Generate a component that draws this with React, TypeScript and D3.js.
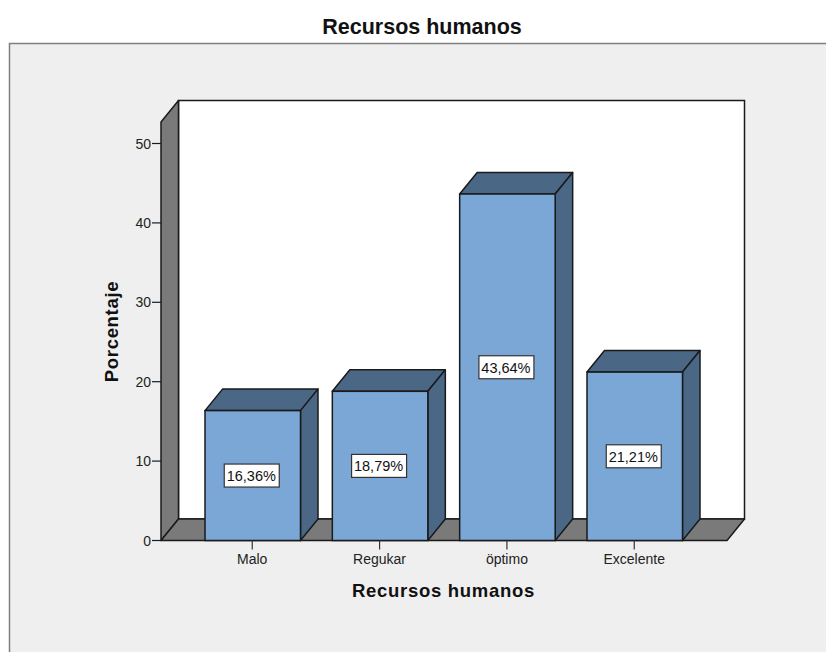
import React from "react";
import * as d3 from "d3";

const categories = ["Malo", "Regukar", "öptimo", "Excelente"];
const values = [16.36, 18.79, 43.64, 21.21];
const valueLabels = ["16,36%", "18,79%", "43,64%", "21,21%"];
const yTicks = [0, 10, 20, 30, 40, 50];
const title = "Recursos humanos";
const xTitle = "Recursos humanos";
const yTitle = "Porcentaje";

const W = 826, H = 652;
const font = "'Liberation Sans', Arial, sans-serif";
const ink = "#1a1a1a";
const floorLeft = 161, floorRight = 727;
const depthX = 17.5, depthY = 21.5;
const y = d3.scaleLinear().domain([0, 50]).range([540.5, 143.5]);
const x = d3.scaleBand().domain(categories).range([205, 682.5]).paddingInner(0.25).paddingOuter(0);
const wallTop = 122;

function poly(pts: [number, number][]) {
  return d3.line()(pts)! + "Z";
}

export default function App() {
  const y0 = y(0);
  return (
    <svg width={W} height={H} viewBox={`0 0 ${W} ${H}`} style={{ position: "absolute", left: 0, top: 0, background: "#fff" }}>
      <rect x={9.5} y={43.5} width={W + 10} height={H} fill="#efefef" stroke="#7f7f7f" strokeWidth={1.5} />
      <text x={422} y={34} textAnchor="middle" fontFamily={font} fontWeight="bold" fontSize={21.5} fill="#111">{title}</text>

      {/* back wall, side wall, floor */}
      <rect x={floorLeft + depthX} y={wallTop - depthY} width={floorRight - floorLeft} height={y0 - wallTop} fill="#fff" stroke={ink} strokeWidth={1.5} />
      <path d={poly([[floorLeft, wallTop], [floorLeft + depthX, wallTop - depthY], [floorLeft + depthX, y0 - depthY], [floorLeft, y0]])} fill="#7a7a7a" stroke={ink} strokeWidth={1.5} strokeLinejoin="round" />
      <path d={poly([[floorLeft, y0], [floorLeft + depthX, y0 - depthY], [floorRight + depthX, y0 - depthY], [floorRight, y0]])} fill="#7a7a7a" stroke={ink} strokeWidth={1.5} strokeLinejoin="round" />

      {/* y axis */}
      {yTicks.map((t) => (
        <g key={t}>
          <line x1={floorLeft - 9} x2={floorLeft} y1={y(t)} y2={y(t)} stroke={ink} strokeWidth={1.2} />
          <text x={floorLeft - 10} y={y(t) + 5} textAnchor="end" fontFamily={font} fontSize={14} fill="#222">{t}</text>
        </g>
      ))}

      {/* bars */}
      {categories.map((c, i) => {
        const l = x(c)!, r = l + x.bandwidth(), t = y(values[i]), cx = (l + r) / 2;
        const my = (t + y0) / 2;
        return (
          <g key={c}>
            <path d={poly([[l, t], [l + depthX, t - depthY], [r + depthX, t - depthY], [r, t]])} fill="#4a6885" stroke={ink} strokeWidth={1.5} strokeLinejoin="round" />
            <path d={poly([[r, t], [r + depthX, t - depthY], [r + depthX, y0 - depthY], [r, y0]])} fill="#4a6885" stroke={ink} strokeWidth={1.5} strokeLinejoin="round" />
            <rect x={l} y={t} width={r - l} height={y0 - t} fill="#7ba7d6" stroke={ink} strokeWidth={1.5} />
            <rect x={cx - 28.5} y={my - 11.5} width={55} height={23} fill="#fff" stroke="#333" strokeWidth={1.2} />
            <text x={cx - 1.5} y={my + 5.5} textAnchor="middle" fontFamily={font} fontSize={14.5} fill="#111">{valueLabels[i]}</text>
            <line x1={cx - 0.5} x2={cx - 0.5} y1={y0} y2={y0 + 9} stroke="#333" strokeWidth={1.2} />
            <text x={cx - 0.5} y={y0 + 23} textAnchor="middle" fontFamily={font} fontSize={14} fill="#222">{c}</text>
          </g>
        );
      })}

      <text x={443.5} y={597} textAnchor="middle" fontFamily={font} fontWeight="bold" fontSize={18.5} letterSpacing={0.7} fill="#111">{xTitle}</text>
      <text transform="translate(118,331.5) rotate(-90)" textAnchor="middle" fontFamily={font} fontWeight="bold" fontSize={18.5} letterSpacing={0.7} fill="#111">{yTitle}</text>
    </svg>
  );
}
